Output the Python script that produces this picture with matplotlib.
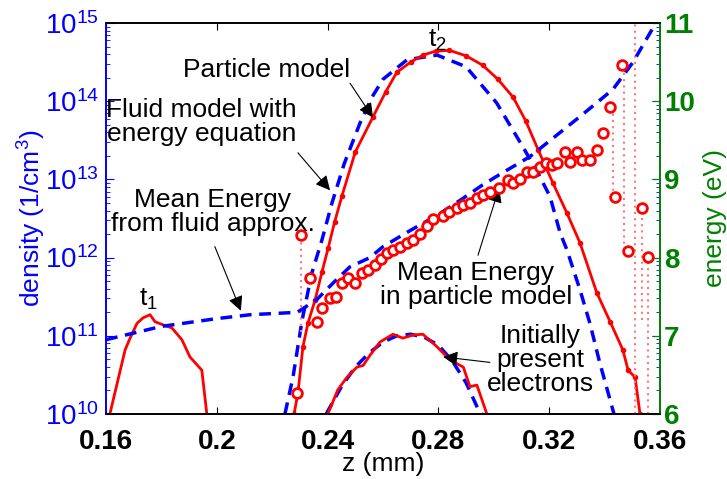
import numpy as np
import matplotlib
matplotlib.use('Agg')
import matplotlib.pyplot as plt
from matplotlib.ticker import LogLocator

plt.rcParams['font.family'] = ['Liberation Sans', 'DejaVu Sans']
plt.rcParams['mathtext.fontset'] = 'custom'
plt.rcParams['mathtext.rm'] = 'Liberation Sans'
plt.rcParams['mathtext.it'] = 'Liberation Sans'

# particle model density (log10 of 1/cm^3)
part_z = [0.2279, 0.2293, 0.2311, 0.2329, 0.2355, 0.2380, 0.2402, 0.2425, 0.2452,
          0.2500, 0.2564, 0.2610, 0.2650, 0.2700, 0.2745, 0.2790, 0.2840, 0.2900,
          0.2960, 0.3015, 0.3070, 0.3115, 0.3160, 0.3214, 0.3264, 0.3311, 0.3372,
          0.3420, 0.3466, 0.3485, 0.3510, 0.3528]
part_n = [10.0, 10.27, 10.86, 11.16, 11.46, 11.82, 12.12, 12.45, 12.79,
          13.35, 13.80, 14.12, 14.37, 14.50, 14.59, 14.64, 14.65, 14.58,
          14.46, 14.28, 14.05, 13.75, 13.38, 12.95, 12.57, 12.19, 11.55,
          11.18, 10.82, 10.56, 10.47, 10.0]

# fluid model density
fluid_z = [0.2246, 0.2275, 0.2308, 0.2343, 0.2380, 0.2416, 0.2460, 0.2517, 0.2560,
           0.2600, 0.2687, 0.2795, 0.2900, 0.3010, 0.3106, 0.3160, 0.3203, 0.3240,
           0.3264, 0.3311, 0.3347, 0.3383, 0.3427, 0.3434]
fluid_n = [10.0, 10.47, 11.20, 11.80, 12.23, 12.70, 13.20, 13.72, 14.05,
           14.28, 14.53, 14.59, 14.44, 13.98, 13.41, 13.08, 12.78, 12.31,
           12.10, 11.59, 11.16, 10.65, 10.09, 10.0]

# t1 electrons (particle)
t1_z = [0.1614, 0.1669, 0.1687, 0.1712, 0.1734, 0.1759, 0.1777, 0.1806, 0.1838,
        0.1874, 0.1903, 0.1946, 0.1964]
t1_n = [10.0, 10.82, 10.97, 11.16, 11.23, 11.27, 11.18, 11.14, 11.10,
        10.95, 10.73, 10.56, 10.0]

# initially present electrons (particle / fluid)
init_z = [0.2401, 0.2437, 0.2470, 0.2506, 0.2528, 0.2553, 0.2589, 0.2636, 0.2672,
          0.2708, 0.2744, 0.2795, 0.2842, 0.2890, 0.2914, 0.2939, 0.2975]
init_n = [10.0, 10.31, 10.47, 10.60, 10.62, 10.75, 10.92, 11.02, 10.97,
          11.01, 11.02, 10.86, 10.69, 10.60, 10.35, 10.37, 10.0]
initf_z = [0.2395, 0.2450, 0.2500, 0.2550, 0.2600, 0.2650, 0.2700, 0.2750, 0.2800,
           0.2850, 0.2900, 0.2945, 0.2958]
initf_n = [10.0, 10.35, 10.60, 10.78, 10.92, 11.00, 11.02, 10.98, 10.88,
           10.68, 10.40, 10.05, 10.0]

# mean energy, fluid approximation (eV)
efl_z = [0.160, 0.180, 0.200, 0.2122, 0.229, 0.236, 0.2427, 0.248, 0.2553, 0.260,
         0.270, 0.280, 0.289, 0.296, 0.302, 0.313, 0.331, 0.343, 0.3503, 0.3585]
efl_e = [6.95, 7.12, 7.22, 7.27, 7.30, 7.46, 7.70, 7.88, 8.00, 8.14,
         8.35, 8.55, 8.76, 8.93, 9.06, 9.29, 9.80, 10.15, 10.50, 11.0]

# mean energy, particle model (eV)
epa_z = [0.2289, 0.2305, 0.2337, 0.2362, 0.2380, 0.2409, 0.2430, 0.2452, 0.2474,
         0.2499, 0.2524, 0.2546, 0.2570, 0.2592, 0.2614, 0.2636, 0.2660, 0.2687,
         0.2710, 0.2735, 0.2758, 0.2780, 0.2817, 0.2840, 0.2866, 0.2890, 0.2914,
         0.2940, 0.2960, 0.2986, 0.3020, 0.3050, 0.3070, 0.3095, 0.3120, 0.3140,
         0.3167, 0.3190, 0.3210, 0.3230, 0.3257, 0.3275, 0.3300, 0.3320, 0.3347,
         0.3372, 0.3394, 0.3420, 0.3437, 0.3463, 0.3485, 0.3535, 0.3557]
epa_e = [6.27, 8.29, 7.74, 7.18, 7.36, 7.48, 7.50, 7.68, 7.74,
         7.68, 7.80, 7.84, 7.90, 7.98, 8.06, 8.10, 8.14, 8.19,
         8.23, 8.30, 8.40, 8.49, 8.53, 8.58, 8.63, 8.67, 8.70,
         8.76, 8.80, 8.84, 8.89, 8.99, 8.95, 9.01, 9.09, 9.09,
         9.16, 9.21, 9.18, 9.21, 9.35, 9.22, 9.35, 9.25, 9.25,
         9.38, 9.59, 9.93, 8.77, 10.46, 8.08, 8.63, 8.01]

# dotted error ranges of the particle energy
err_z = [0.2305, 0.3430, 0.3470, 0.3509, 0.3535, 0.3557]
err_lo = [7.05, 8.77, 8.10, 6.0, 7.2, 6.0]
err_hi = [8.29, 9.93, 10.46, 11.0, 8.63, 8.01]

fig = plt.figure(figsize=(7.27, 4.79), dpi=100)
ax = fig.add_axes([0.1458, 0.1357, 0.7620, 0.8163])
ax2 = ax.twinx()

red = '#ff0000'
blue = '#0000ff'
green = '#008000'
dash = (0, (3.4, 2.2))

ax.plot(fluid_z, 10 ** np.array(fluid_n), color=blue, lw=2.5, ls=dash)
ax.plot(part_z, 10 ** np.array(part_n), color=red, lw=2, marker='o', ms=3)
ax.plot(t1_z, 10 ** np.array(t1_n), color=red, lw=2)
ax.plot(initf_z, 10 ** np.array(initf_n), color=blue, lw=2.5, ls=dash)
ax.plot(init_z, 10 ** np.array(init_n), color=red, lw=2)

ax2.vlines(err_z, err_lo, err_hi, colors='#ff7777', linestyles=(0, (1.0, 2.0)), lw=1.5)
ax2.plot(efl_z, efl_e, color=blue, lw=2.5, ls=dash)
ax2.plot(epa_z, epa_e, ls='none', marker='o', ms=7, mfc='white', mec=red, mew=2)

ax.set_yscale('log')
ax.set_xlim(0.16, 0.36)
ax.set_ylim(1e10, 1e15)
ax2.set_ylim(6, 11)

ax.set_xticks([0.16, 0.2, 0.24, 0.28, 0.32, 0.36])
ax.set_xticklabels(['0.16', '0.2', '0.24', '0.28', '0.32', '0.36'],
                   fontweight='bold', fontsize=20)
ax.tick_params(axis='x', direction='in', top=True, length=5, pad=11, colors='k')
ax.tick_params(axis='y', which='both', direction='in', right=True, colors=blue,
               labelsize=20, labelcolor=blue, pad=5)
ax.tick_params(axis='y', which='major', length=6)
ax.tick_params(axis='y', which='minor', length=3)
ax.yaxis.set_major_locator(LogLocator(base=10, numticks=10))
ax.yaxis.set_minor_locator(LogLocator(base=10, subs=np.arange(2, 10), numticks=20))

ax2.set_yticks([6, 7, 8, 9, 10, 11])
ax2.set_yticklabels(['6', '7', '8', '9', '10', '11'], fontweight='bold',
                    fontsize=20, color=green)
ax2.tick_params(axis='y', direction='in', colors=green, length=6, pad=3)

ax.spines['left'].set_color(blue)
ax.spines['right'].set_color(green)
ax2.spines['left'].set_color(blue)
ax2.spines['right'].set_color(green)
for s in ax.spines.values():
    s.set_linewidth(1.2)
for s in ax2.spines.values():
    s.set_linewidth(1.2)

ax.set_ylabel('density (1/cm$^3$)', color=blue, fontsize=19, labelpad=-2)
ax2.set_ylabel('energy (eV)', color=green, fontsize=19, labelpad=6)
ax.set_xlabel('z (mm)', fontsize=19, labelpad=-2)

arrow = dict(arrowstyle='-|>', color='k', lw=0.8, mutation_scale=22, shrinkA=0, shrinkB=0)
fs = 19
ax.text(0.2181, 10 ** 14.40, 'Particle model', ha='center', va='center', fontsize=fs)
ax.annotate('', xy=(0.2564, 10 ** 13.79), xytext=(0.2481, 10 ** 14.23), arrowprops=arrow)
ax.text(0.1945, 10 ** 13.73, 'Fluid model with\nenergy equation', ha='center',
        va='center', fontsize=fs, linespacing=1.0)
ax.annotate('', xy=(0.2409, 10 ** 12.86), xytext=(0.2293, 10 ** 13.34), arrowprops=arrow)
ax.text(0.1985, 10 ** 12.58, 'Mean Energy\nfrom fluid approx.', ha='center',
        va='center', fontsize=fs, linespacing=1.0)
ax.annotate('', xy=(0.2087, 10 ** 11.32), xytext=(0.1993, 10 ** 12.14), arrowprops=arrow)
ax.text(0.2935, 10 ** 11.65, 'Mean Energy\nin particle model', ha='center',
        va='center', fontsize=fs, linespacing=1.0)
ax.annotate('', xy=(0.3019, 10 ** 12.89), xytext=(0.2943, 10 ** 12.03), arrowprops=arrow)
ax.text(0.3167, 10 ** 10.69, 'Initially\npresent\nelectrons', ha='center',
        va='center', fontsize=fs, linespacing=1.0)
ax.annotate('', xy=(0.2817, 10 ** 10.73), xytext=(0.2986, 10 ** 10.66), arrowprops=arrow)
ax.text(0.1752, 10 ** 11.46, 't$_1$', ha='center', va='center', fontsize=fs)
ax.text(0.2795, 10 ** 14.78, 't$_2$', ha='center', va='center', fontsize=fs)

fig.savefig('out.png', dpi=100)
